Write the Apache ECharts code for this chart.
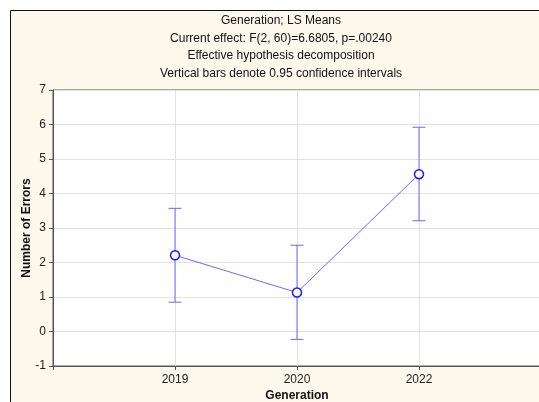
<!DOCTYPE html>
<html>
<head>
<meta charset="utf-8">
<script src="https://cdn.jsdelivr.net/npm/echarts@6/dist/echarts.min.js"></script>
<style>
  html, body { margin: 0; padding: 0; background: #ffffff; }
</style>
</head>
<body>
<div id="lsMeans" style="width: 539px;height: 402px;"></div>
<script>
const categories = ['2019', '2020', '2022'];
const means = [2.21, 1.13, 4.56];
const lower = [0.85, -0.23, 3.21];
const upper = [3.57, 2.50, 5.92];
const yTicks = [-1, 0, 1, 2, 3, 4, 5, 6, 7];

const titleLines = [
  'Generation; LS Means',
  'Current effect: F(2, 60)=6.6805, p=.00240',
  'Effective hypothesis decomposition',
  'Vertical bars denote 0.95 confidence intervals'
];

const blue = '#6a6aff';
const font = 'Liberation Sans, Arial, sans-serif';

let meanPoints = means.map((m, i) => [i + 1, m]);
let barPoints = means.map((m, i) => [i + 1, lower[i], upper[i]]);

// title lines, centred
let titleTexts = titleLines.map((t, i) => ({
  type: 'text',
  x: 281,
  y: 15 + i * 17.5,
  style: {
    text: t,
    font: '12px ' + font,
    fill: '#111',
    align: 'center',
    verticalAlign: 'top'
  }
}));

let option = {
  backgroundColor: '#ffffff',
  animation: false,
  textStyle: {fontFamily: font},
  graphic: [
    {
      type: 'rect',
      z: -10,
      shape: {x: 10.5, y: 10.5, width: 540, height: 400},
      style: {fill: '#fdf8ec', stroke: '#111', lineWidth: 1}
    }
  ].concat(titleTexts),
  grid: {
    left: 53,
    top: 90,
    width: 488,
    bottom: 36,
    outerBoundsMode: 'none',
    containLabel: false,
    show: true,
    backgroundColor: '#ffffff',
    borderColor: '#555',
    borderWidth: 1
  },
  xAxis: {
    type: 'value',
    min: 0,
    max: 4,
    interval: 1,
    name: 'Generation',
    nameLocation: 'middle',
    nameGap: 24,
    nameMoveOverlap: false,
    nameTextStyle: {fontWeight: 'bold', fontSize: 12, color: '#111'},
    axisLine: {show: true, onZero: false, lineStyle: {color: '#555'}},
    axisTick: {show: true, length: 4, lineStyle: {color: '#555'}},
    axisLabel: {
      fontSize: 12,
      color: '#222',
      margin: 8,
      formatter: function (v) {
        return categories[v - 1] || '';
      }
    },
    splitLine: {show: true, lineStyle: {color: '#e2e2e2'}}
  },
  yAxis: {
    type: 'value',
    min: yTicks[0],
    max: yTicks[yTicks.length - 1],
    interval: 1,
    name: 'Number of Errors',
    nameLocation: 'middle',
    nameGap: 20,
    nameMoveOverlap: false,
    nameTextStyle: {fontWeight: 'bold', fontSize: 12, color: '#111'},
    axisLine: {show: true, onZero: false, lineStyle: {color: '#555'}},
    axisTick: {show: true, length: 4, lineStyle: {color: '#555'}},
    axisLabel: {fontSize: 12, color: '#222', margin: 7},
    splitLine: {show: true, lineStyle: {color: '#e2e2e2'}}
  },
  series: [
    {
      type: 'custom',
      data: barPoints,
      z: 3,
      renderItem: function (params, api) {
        let x = api.coord([api.value(0), api.value(1)])[0];
        let lo = api.coord([api.value(0), api.value(1)])[1];
        let hi = api.coord([api.value(0), api.value(2)])[1];
        let half = 6.5;
        let style = {stroke: blue, lineWidth: 1};
        return {
          type: 'group',
          children: [
            {type: 'line', shape: {x1: x, y1: hi, x2: x, y2: lo}, style: style},
            {type: 'line', shape: {x1: x - half, y1: hi, x2: x + half, y2: hi}, style: style},
            {type: 'line', shape: {x1: x - half, y1: lo, x2: x + half, y2: lo}, style: style}
          ]
        };
      }
    },
    {
      type: 'line',
      data: meanPoints,
      z: 4,
      symbol: 'circle',
      symbolSize: 9,
      lineStyle: {color: blue, width: 1},
      itemStyle: {color: '#ffffff', borderColor: '#1a1aff', borderWidth: 1.5}
    }
  ]
};

let chart = echarts.init(document.getElementById('lsMeans'));
chart.setOption(option);
</script>
</body>
</html>
